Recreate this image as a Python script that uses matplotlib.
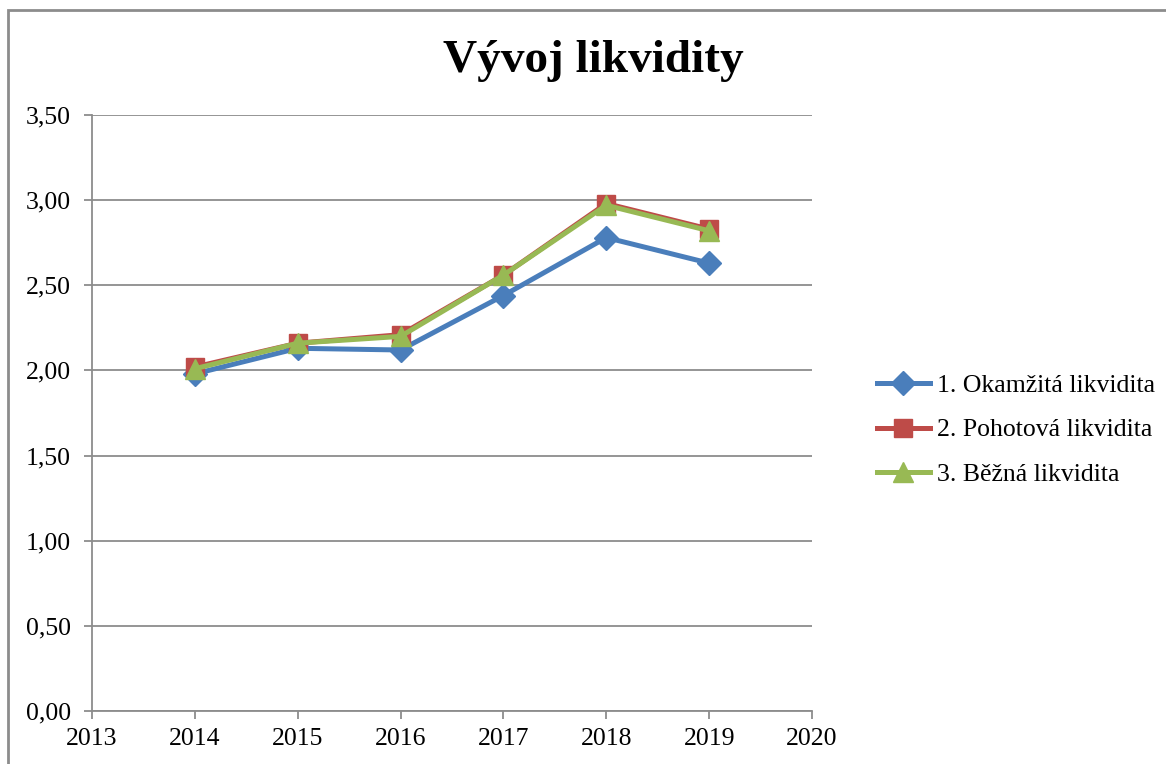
import numpy as np
import matplotlib
matplotlib.use("Agg")
import matplotlib.pyplot as plt
from matplotlib.ticker import FuncFormatter, MultipleLocator
from matplotlib.patches import Rectangle

# ---------------------------------------------
# Data
# ---------------------------------------------
roky = [2014, 2015, 2016, 2017, 2018, 2019]
okamzita = [1.98, 2.13, 2.12, 2.44, 2.78, 2.63]
pohotova = [2.02, 2.16, 2.21, 2.56, 2.98, 2.83]
bezna = [2.01, 2.16, 2.20, 2.56, 2.97, 2.82]
nazvy = ["1. Okamžitá likvidita", "2. Pohotová likvidita", "3. Běžná likvidita"]

plt.rcParams['font.family'] = ['Liberation Serif', 'DejaVu Serif']

fig = plt.figure(figsize=(11.66, 7.64), dpi=100)
ax = fig.add_axes([92/1166, 1 - 711/764, 720/1166, 596/764])

# chart border
fig.patches.append(Rectangle((8/1166, -0.05), 1.1, 1 - 10/764 + 0.05,
                             transform=fig.transFigure, fill=False,
                             edgecolor='#8c8c8c', linewidth=2))

ax.plot(roky, okamzita, color='#4A7EBB', lw=3.6, marker='D', ms=12, label=nazvy[0])
ax.plot(roky, pohotova, color='#BE4B48', lw=3.6, marker='s', ms=13, label=nazvy[1])
ax.plot(roky, bezna, color='#98B954', lw=3.6, marker='^', ms=14, label=nazvy[2])

ax.set_xlim(2013, 2020)
ax.set_ylim(0, 3.5)
ax.xaxis.set_major_locator(MultipleLocator(1))
ax.yaxis.set_major_locator(MultipleLocator(0.5))
ax.yaxis.set_major_formatter(FuncFormatter(lambda v, p: f"{v:.2f}".replace('.', ',')))

ax.grid(axis='y', color='#8c8c8c', lw=1.3)
ax.set_axisbelow(True)
for s in ['top', 'right']:
    ax.spines[s].set_visible(False)
for s in ['left', 'bottom']:
    ax.spines[s].set_color('#8c8c8c')
    ax.spines[s].set_linewidth(1.3)
ax.tick_params(axis='both', direction='out', length=6, width=1.3, color='#8c8c8c',
               labelsize=18.5, labelcolor='black')
ax.tick_params(axis='y', pad=9)
ax.tick_params(axis='x', pad=6)

fig.text(593/1166, 1 - 61/764, "Vývoj likvidity", ha='center', va='center',
         fontsize=34, fontweight='bold')

ax.legend(loc='center left', bbox_to_anchor=(854/1166, 1 - 430/764),
          bbox_transform=fig.transFigure, frameon=False, fontsize=18.5,
          handlelength=2.05, handletextpad=0.28, labelspacing=0.85)

fig.savefig("out.png", dpi=100)
